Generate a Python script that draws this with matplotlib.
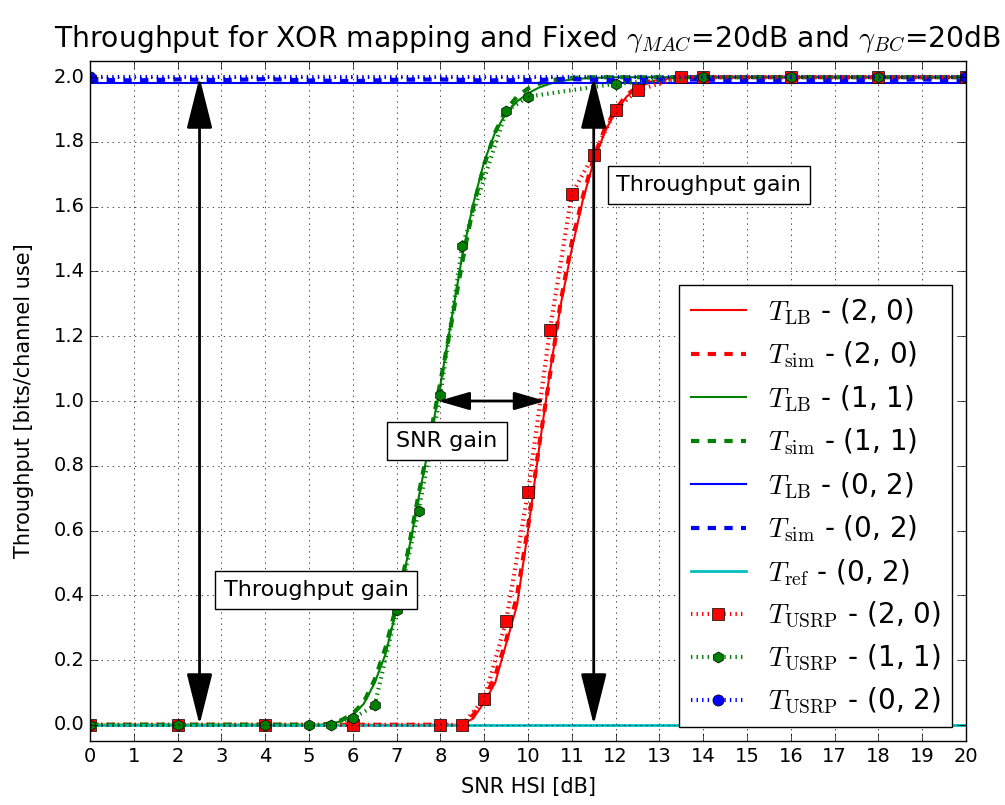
import matplotlib
matplotlib.use("Agg")
import matplotlib.pyplot as plt

plt.style.use("classic")
plt.rcParams["mathtext.fontset"] = "cm"

# SNR grid for the lower bound / simulation curves
snr = [0, 1, 2, 3, 4, 5, 5.25, 5.5, 5.75, 6, 6.25, 6.5, 6.75, 7, 7.25, 7.5, 7.75,
       8, 8.25, 8.5, 8.75, 9, 9.25, 9.5, 9.75, 10, 10.25, 10.5, 10.75, 11, 11.25,
       11.5, 11.75, 12, 12.25, 12.5, 12.75, 13, 13.25, 13.5, 14, 15, 16, 17, 18,
       19, 20]

lb_20 = [0, 0, 0, 0, 0, 0, 0, 0, 0, 0, 0, 0, 0, 0, 0, 0, 0,
         0, 0, 0.0, 0.02, 0.07, 0.13, 0.25, 0.37, 0.60, 0.85, 1.09, 1.30, 1.47, 1.62,
         1.74, 1.83, 1.895, 1.94, 1.968, 1.984, 1.993, 1.997, 2.0, 2.0, 2.0, 2.0, 2.0, 2.0,
         2.0, 2.0]
sim_20 = [0, 0, 0, 0, 0, 0, 0, 0, 0, 0, 0, 0, 0, 0, 0, 0, 0,
          0, 0, 0.005, 0.03, 0.08, 0.15, 0.26, 0.40, 0.61, 0.86, 1.08, 1.31, 1.49, 1.63,
          1.75, 1.84, 1.90, 1.945, 1.97, 1.986, 1.994, 1.998, 2.0, 2.0, 2.0, 2.0, 2.0, 2.0,
          2.0, 2.0]
lb_11 = [0, 0, 0, 0, 0, 0, 0, 0.003, 0.012, 0.03, 0.065, 0.13, 0.22, 0.36, 0.52, 0.70, 0.87,
         1.05, 1.25, 1.45, 1.61, 1.74, 1.83, 1.89, 1.925, 1.95, 1.968, 1.98, 1.988, 1.993, 1.996,
         1.998, 1.999, 2.0, 2.0, 2.0, 2.0, 2.0, 2.0, 2.0, 2.0, 2.0, 2.0, 2.0, 2.0,
         2.0, 2.0]
sim_11 = [0, 0, 0, 0, 0, 0, 0, 0.004, 0.015, 0.035, 0.07, 0.14, 0.24, 0.37, 0.53, 0.71, 0.88,
          1.06, 1.24, 1.43, 1.60, 1.73, 1.83, 1.90, 1.94, 1.965, 1.98, 1.99, 1.995, 1.998, 1.999,
          2.0, 2.0, 2.0, 2.0, 2.0, 2.0, 2.0, 2.0, 2.0, 2.0, 2.0, 2.0, 2.0, 2.0,
          2.0, 2.0]

# (0, 2) case: flat curves
snr_02 = [0, 1, 2, 3, 4, 5, 6, 7, 8, 9, 10, 11, 12, 13, 14, 15, 16, 17, 18, 19, 20]
lb_02 = [1.982] * len(snr_02)
sim_02 = [1.992, 1.99, 1.993, 1.991, 1.994, 1.99, 1.988, 1.992, 1.993, 1.99, 1.991,
          1.994, 1.99, 1.992, 1.993, 1.989, 1.99, 1.992, 1.991, 1.993, 1.99]
snr_ref = [0, 20]
ref_02 = [0.0, 0.0]

# USRP measurements
snr_usrp_20 = [0, 2, 4, 6, 8, 8.5, 9, 9.5, 10, 10.5, 11, 11.5, 12, 12.5, 13.5, 14, 16, 18, 20]
usrp_20 = [0, 0, 0, 0, 0, 0, 0.08, 0.32, 0.72, 1.22, 1.64, 1.76, 1.90, 1.96, 2.0, 2.0, 2.0, 2.0, 2.0]
snr_usrp_11 = [0, 2, 4, 5, 5.5, 6, 6.5, 7, 7.5, 8, 8.5, 9.5, 10, 12, 14, 16, 18, 20]
usrp_11 = [0, 0, 0, 0, 0, 0.02, 0.06, 0.355, 0.66, 1.02, 1.48, 1.895, 1.94, 1.98, 2.0, 2.0, 2.0, 2.0]
snr_usrp_02 = [0, 20]
usrp_02 = [2.0, 2.0]

fig = plt.figure(figsize=(10.05, 8.05), dpi=100, facecolor="w")
ax = fig.add_axes([0.0896, 0.0795, 0.8716, 0.8447])

ax.plot(snr, lb_20, "r-", lw=1.5, label=r"$T_{\rm LB}$ - (2, 0)")
ax.plot(snr, sim_20, "r--", lw=3, label=r"$T_{\rm sim}$ - (2, 0)")
ax.plot(snr, lb_11, "g-", lw=1.5, label=r"$T_{\rm LB}$ - (1, 1)")
ax.plot(snr, sim_11, "g--", lw=3, label=r"$T_{\rm sim}$ - (1, 1)")
ax.plot(snr_02, lb_02, "b-", lw=1.5, label=r"$T_{\rm LB}$ - (0, 2)")
ax.plot(snr_02, sim_02, "b--", lw=3, label=r"$T_{\rm sim}$ - (0, 2)")
ax.plot(snr_ref, ref_02, "c-", lw=2, label=r"$T_{\rm ref}$ - (0, 2)")
ax.plot(snr_usrp_20, usrp_20, "r:", lw=3, marker="s", ms=8, mec="k",
        label=r"$T_{\rm USRP}$ - (2, 0)")
ax.plot(snr_usrp_11, usrp_11, "g:", lw=3, marker="h", ms=8, mec="k",
        label=r"$T_{\rm USRP}$ - (1, 1)")
ax.plot(snr_usrp_02, usrp_02, "b:", lw=3, marker="o", ms=8, mec="k",
        label=r"$T_{\rm USRP}$ - (0, 2)")

# gain arrows
big = dict(arrowstyle="<|-|>,head_length=32,head_width=8", lw=2, color="k",
           shrinkA=0, shrinkB=0, mutation_scale=1)
small = dict(arrowstyle="<|-|>,head_length=19,head_width=5.5", lw=2, color="k",
             shrinkA=0, shrinkB=0, mutation_scale=1)
ax.annotate("", xy=(2.5, 2.0), xytext=(2.5, 0.0), arrowprops=big)
ax.annotate("", xy=(11.5, 2.0), xytext=(11.5, 0.0), arrowprops=big)
ax.annotate("", xy=(10.4, 1.0), xytext=(7.95, 1.0), arrowprops=small)

box = dict(boxstyle="square,pad=0.4", fc="w", ec="k")
ax.text(14.13, 1.667, "Throughput gain", ha="center", va="center", fontsize=16, bbox=box)
ax.text(5.16, 0.417, "Throughput gain", ha="center", va="center", fontsize=16, bbox=box)
ax.text(8.15, 0.877, "SNR gain", ha="center", va="center", fontsize=16, bbox=box)

ax.set_xlim(0, 20)
ax.set_ylim(-0.05, 2.05)
ax.set_xticks(range(0, 21))
ax.set_yticks([0.0, 0.2, 0.4, 0.6, 0.8, 1.0, 1.2, 1.4, 1.6, 1.8, 2.0])
ax.tick_params(labelsize=14, length=6)
ax.grid(True)
ax.set_xlabel("SNR HSI [dB]", fontsize=15, labelpad=8)
ax.set_ylabel("Throughput [bits/channel use]", fontsize=15, labelpad=14)
ax.set_title(r"Throughput for XOR mapping and Fixed $\gamma_{MAC}$=20dB and $\gamma_{BC}$=20dB",
             fontsize=20.3, y=1.01)

leg = ax.legend(loc="lower right", fontsize=20, numpoints=1, labelspacing=0.46)
leg.get_frame().set_edgecolor("k")

fig.savefig("out.png", dpi=100, facecolor="w")
